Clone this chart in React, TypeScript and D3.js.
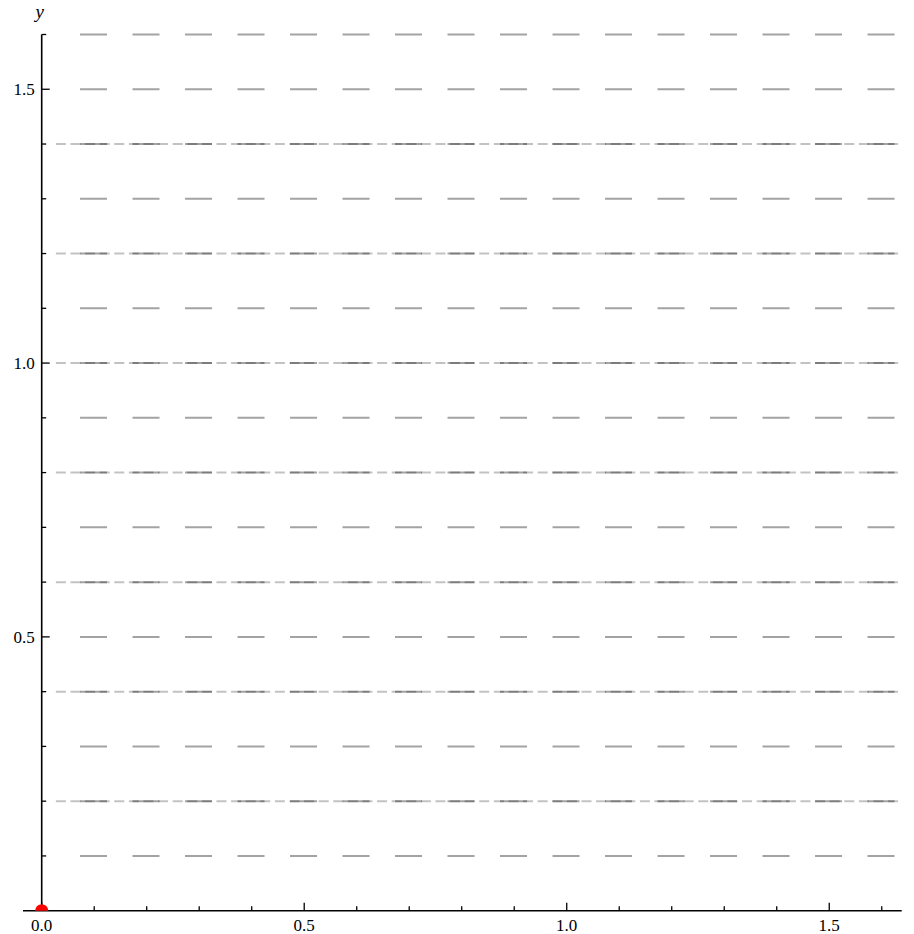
import React from "react";
import * as d3 from "d3";

const xDomain = [0, 1.638];
const yDomain = [0, 1.6];
const xMajorTicks = [0, 0.5, 1.0, 1.5];
const xMinorTicks = [0.1, 0.2, 0.3, 0.4, 0.6, 0.7, 0.8, 0.9, 1.1, 1.2, 1.3, 1.4, 1.6];
const yMajorTicks = [0.5, 1.0, 1.5];
const yMinorTicks = [0.1, 0.2, 0.3, 0.4, 0.6, 0.7, 0.8, 0.9, 1.1, 1.2, 1.3, 1.4, 1.6];
const dashedLevels = [0.1, 0.3, 0.5, 0.7, 0.9, 1.1, 1.3, 1.5, 1.6];
const dashDotLevels = [0.2, 0.4, 0.6, 0.8, 1.0, 1.2, 1.4];
const dashedStart = 0.073;
const dashDotStart = 0.027;
const points = [{ x: 0, y: 0 }];

export default function App() {
  const W = 914, H = 934;
  const left = 41.7, right = 901.7, top = 34.5, bottom = 910.7;
  const x = d3.scaleLinear().domain(xDomain).range([left, right]);
  const y = d3.scaleLinear().domain(yDomain).range([bottom, top]);
  const font = "Liberation Serif, DejaVu Serif, serif";
  return (
    <svg width={W} height={H} style={{ position: "absolute", left: 0, top: 0, background: "#fff" }}>
      <defs>
        <clipPath id="plot">
          <rect x={0} y={0} width={W} height={bottom} />
        </clipPath>
      </defs>
      {dashedLevels.map((v) => (
        <line key={"d" + v} x1={x(dashedStart)} x2={x(xDomain[1])} y1={y(v)} y2={y(v)}
          stroke="#000" strokeOpacity={0.36} strokeWidth={2} strokeDasharray="27,25.5" />
      ))}
      {dashDotLevels.map((v) => (
        <g key={"dd" + v}>
          <line x1={x(dashedStart)} x2={x(xDomain[1])} y1={y(v)} y2={y(v)}
            stroke="#000" strokeOpacity={0.36} strokeWidth={2} strokeDasharray="27,25.5" />
          <line x1={x(dashDotStart)} x2={x(xDomain[1])} y1={y(v)} y2={y(v)}
            stroke="#000" strokeOpacity={0.24} strokeWidth={2} strokeDasharray="10,4.6" />
        </g>
      ))}
      <line x1={23} x2={right} y1={bottom} y2={bottom} stroke="#000" strokeWidth={1.6} />
      <line x1={left} x2={left} y1={top} y2={bottom} stroke="#000" strokeWidth={1.6} />
      {xMajorTicks.map((t) => (
        <g key={"xm" + t}>
          <line x1={x(t)} x2={x(t)} y1={bottom} y2={bottom - 8} stroke="#000" strokeWidth={1.3} />
          <text x={x(t)} y={bottom + 20} textAnchor="middle" fontFamily={font} fontSize={17}>
            {t.toFixed(1)}
          </text>
        </g>
      ))}
      {xMinorTicks.map((t) => (
        <line key={"xn" + t} x1={x(t)} x2={x(t)} y1={bottom} y2={bottom - 4.5} stroke="#000" strokeWidth={1.3} />
      ))}
      {yMajorTicks.map((t) => (
        <g key={"ym" + t}>
          <line x1={left} x2={left + 8} y1={y(t)} y2={y(t)} stroke="#000" strokeWidth={1.3} />
          <text x={left - 7} y={y(t) + 6} textAnchor="end" fontFamily={font} fontSize={17}>
            {t.toFixed(1)}
          </text>
        </g>
      ))}
      {yMinorTicks.map((t) => (
        <line key={"yn" + t} x1={left} x2={left + 4.5} y1={y(t)} y2={y(t)} stroke="#000" strokeWidth={1.3} />
      ))}
      <text x={left - 2} y={18} textAnchor="middle" fontFamily={font} fontSize={19} fontStyle="italic">y</text>
      <g clipPath="url(#plot)">
        {points.map((p, i) => (
          <circle key={i} cx={x(p.x)} cy={y(p.y)} r={6.5} fill="#ff0000" />
        ))}
      </g>
    </svg>
  );
}
